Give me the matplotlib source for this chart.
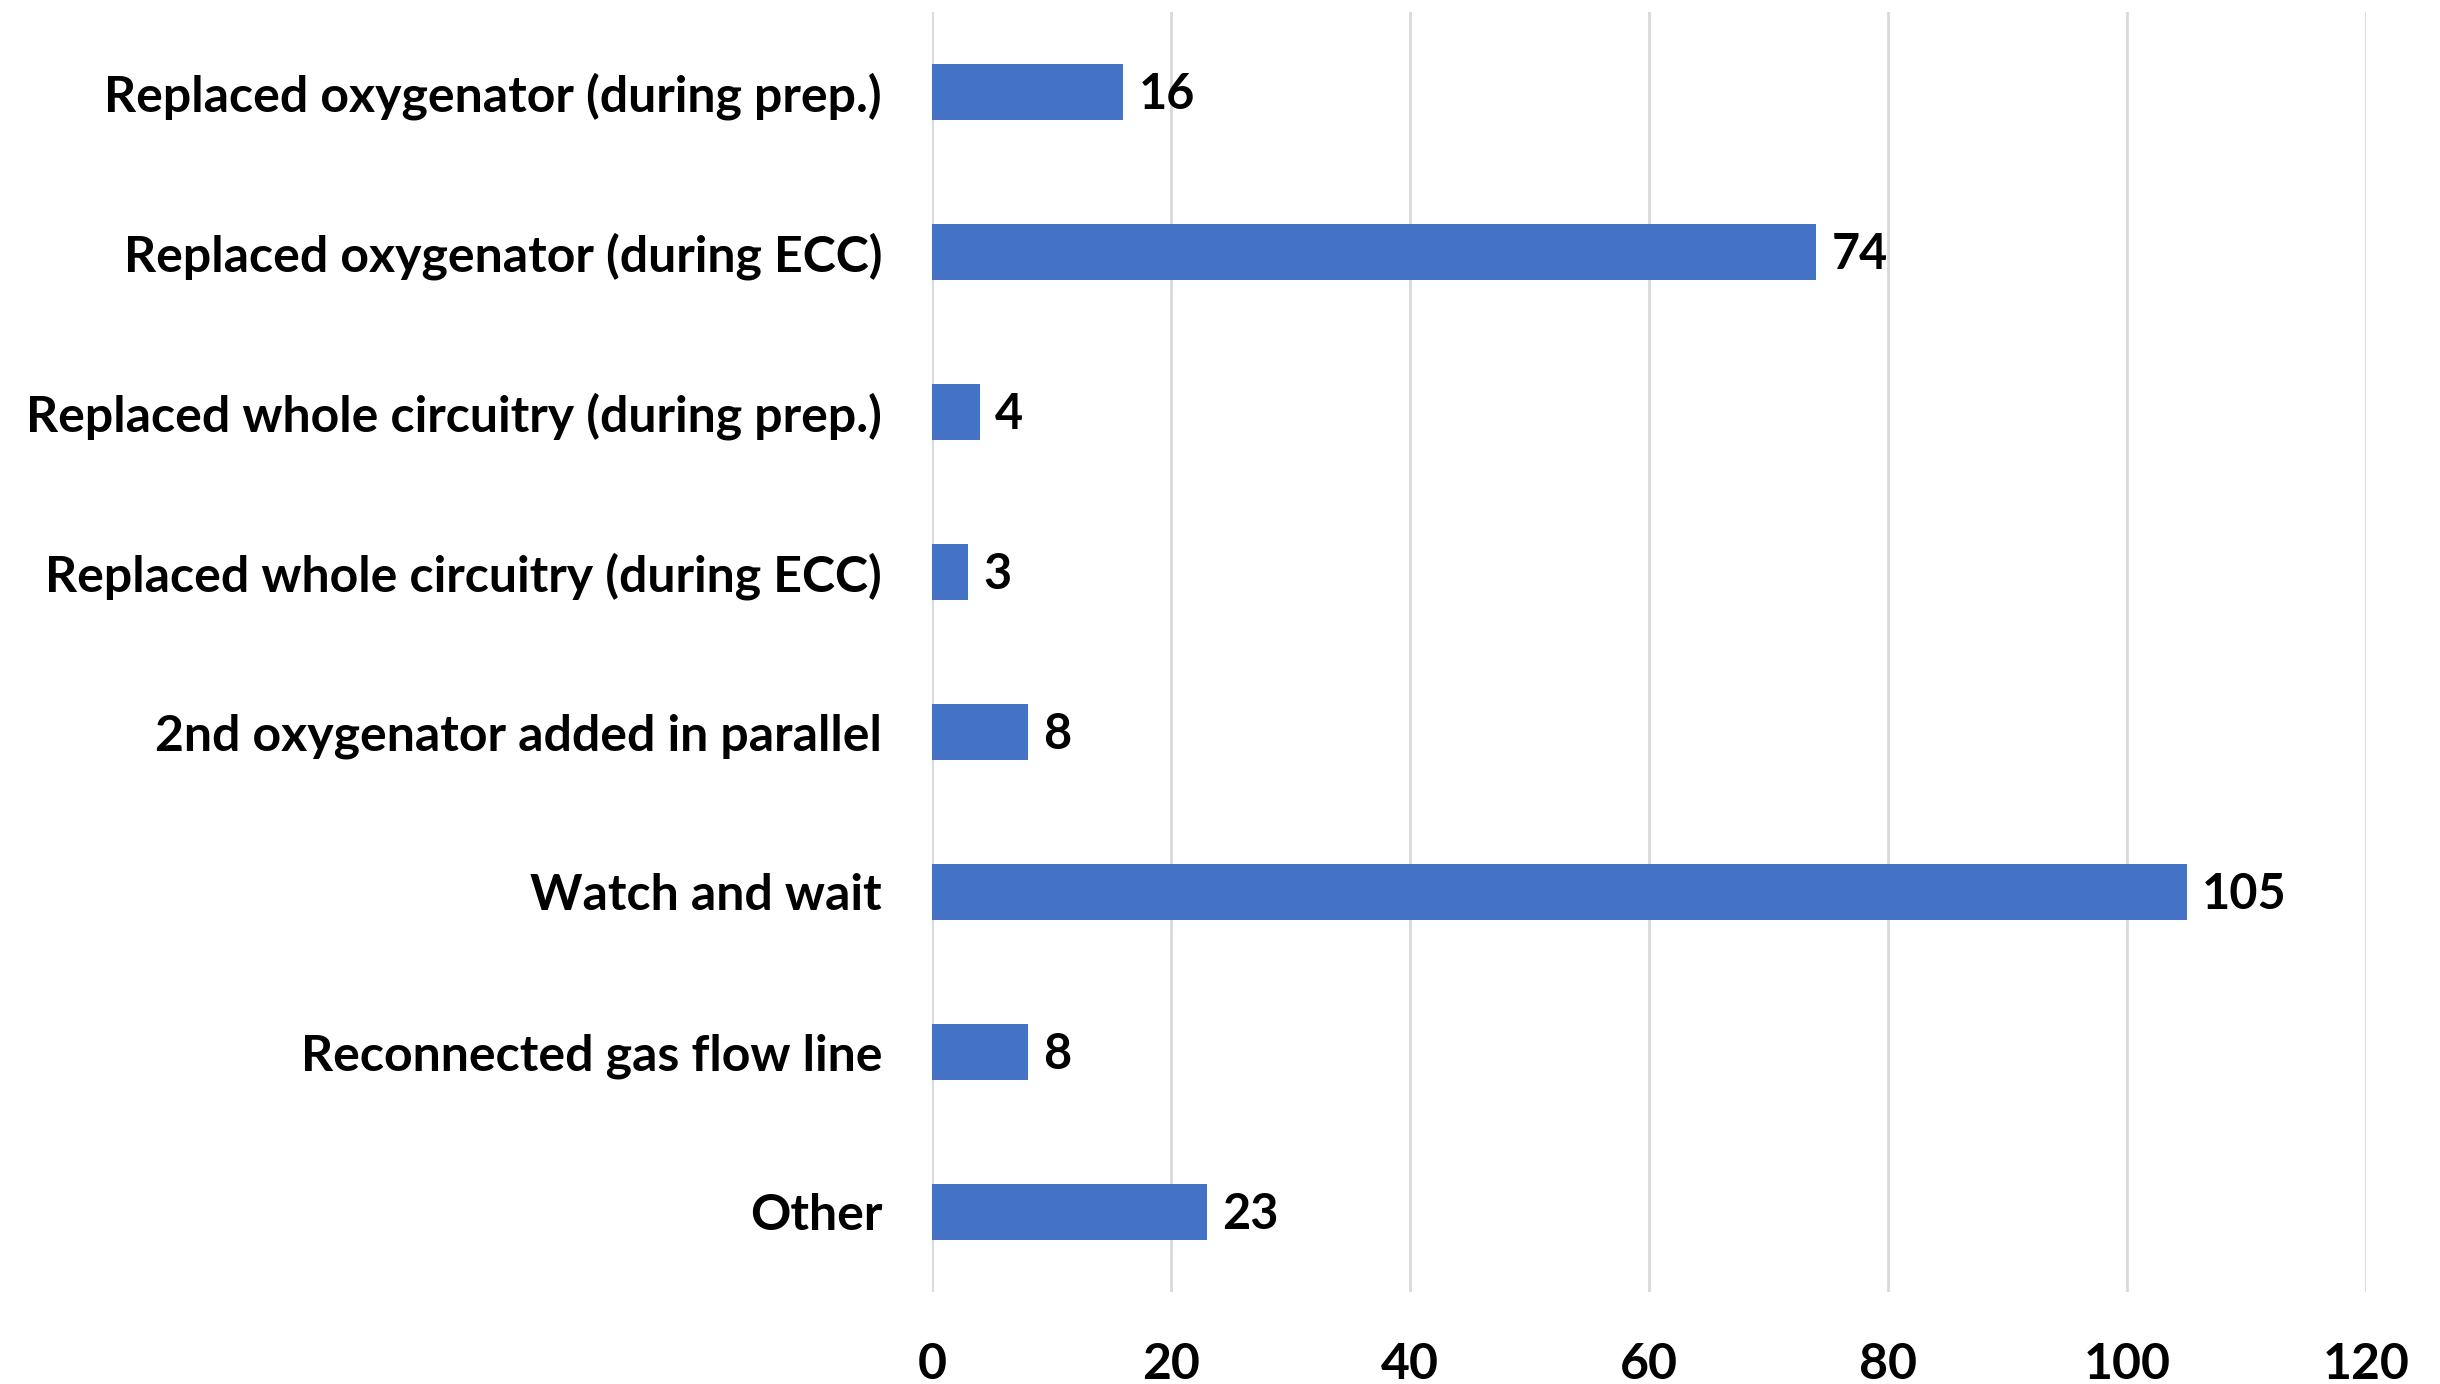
import matplotlib
matplotlib.use("Agg")
import matplotlib.pyplot as plt

categories = [
    "Replaced oxygenator (during prep.)",
    "Replaced oxygenator (during ECC)",
    "Replaced whole circuitry (during prep.)",
    "Replaced whole circuitry (during ECC)",
    "2nd oxygenator added in parallel",
    "Watch and wait",
    "Reconnected gas flow line",
    "Other",
]
values = [16, 74, 4, 3, 8, 105, 8, 23]
xticks = [0, 20, 40, 60, 80, 100, 120]

plt.rcParams['font.family'] = ['Lato', 'DejaVu Sans']
fig = plt.figure(figsize=(24.4, 13.84), dpi=100)
ax = fig.add_axes([0.382, 0.0665, 0.9697 - 0.382, 0.9913 - 0.0665])

ypos = list(range(len(categories)))[::-1]
bars = ax.barh(ypos, values, height=0.35, color="#4472C4", zorder=3)
for y, v in zip(ypos, values):
    ax.annotate(str(v), (v, y), xytext=(11, -2), textcoords="offset points",
                va="center", ha="left", fontsize=35, fontweight="bold")

ax.set_xlim(0, 120)
ax.set_ylim(-0.5, 7.5)
ax.set_xticks(xticks)
ax.set_xticklabels([str(t) for t in xticks], fontsize=36, fontweight="bold")
ax.set_yticks(ypos)
ax.set_yticklabels(categories, fontsize=36, fontweight="bold")
ax.tick_params(axis="both", length=0)
ax.tick_params(axis="y", pad=36)
ax.tick_params(axis="x", pad=36)
ax.xaxis.grid(True, color="#d9d9d9", linewidth=2, zorder=0)
for s in ax.spines.values():
    s.set_visible(False)

fig.savefig("out.png", dpi=100)
